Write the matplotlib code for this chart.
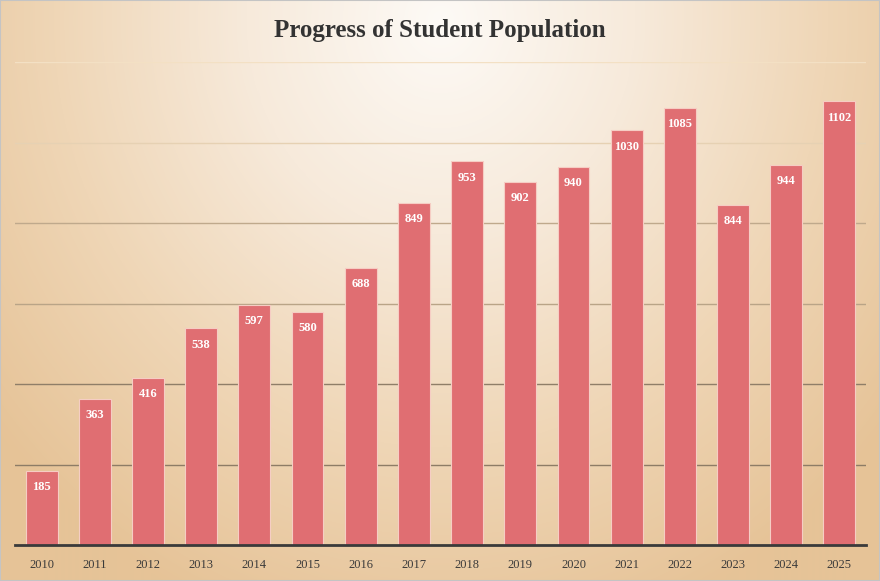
import numpy as np
import matplotlib
matplotlib.use("Agg")
import matplotlib.pyplot as plt
from matplotlib.colors import LinearSegmentedColormap

# Chart data
years = ["2010", "2011", "2012", "2013", "2014", "2015", "2016", "2017",
         "2018", "2019", "2020", "2021", "2022", "2023", "2024", "2025"]
students = [185, 363, 416, 538, 597, 580, 688, 849,
            953, 902, 940, 1030, 1085, 844, 944, 1102]
grid_levels = [200, 400, 600, 800, 1000, 1200]
grid_colors = ["#8d7c66", "#8f7e68", "#b9a487", "#bfa98c", "#e6d1b3", "#f3e0c4"]

SERIF = ["Liberation Serif", "DejaVu Serif"]

fig = plt.figure(figsize=(8.8, 5.81), dpi=100)

# radial gradient background
bg = fig.add_axes([0, 0, 1, 1], zorder=-10)
h, w = 581, 880
yy, xx = np.mgrid[0:h, 0:w]
r = np.sqrt(((xx - 440) / 580.0) ** 2 + ((yy - 20) / 640.0) ** 2)
r = np.clip(r, 0, 1)
cmap_bg = LinearSegmentedColormap.from_list("bg", ["#fdfaf6", "#f7eadb", "#efd6b6", "#e6c397"])
bg.imshow(r, cmap=cmap_bg, aspect="auto", extent=[0, 1, 0, 1], vmin=0, vmax=1)
bg.set_axis_off()
fig.patches.append(plt.Rectangle((0, 0), 1, 1, transform=fig.transFigure,
                                 fill=False, edgecolor="#c4c4c4", linewidth=1.5))

ax = fig.add_axes([15 / 880, 1 - 545 / 581, 851 / 880, (545 - 62) / 581])
ax.patch.set_alpha(0)

x = np.arange(len(years))
for lvl, col in zip(grid_levels, grid_colors):
    ax.axhline(lvl, color=col, linewidth=1.0, zorder=1)

bars = ax.bar(x, students, width=0.6, color="#e06e72", edgecolor="#f6cdc4",
              linewidth=0.8, zorder=2)

for xi, v in zip(x, students):
    ax.text(xi, v - 40, str(v), ha="center", va="center", color="white",
            fontsize=9, fontweight="bold", family=SERIF, zorder=3)

ax.set_xlim(-0.5, len(years) - 0.5)
ax.set_ylim(0, 1200)
ax.set_xticks(x)
ax.set_xticklabels(years, family=SERIF, fontsize=9, color="#3a3a3a")
ax.set_yticks([])
ax.tick_params(axis="x", length=0, pad=10)
for s in ("top", "right", "left"):
    ax.spines[s].set_visible(False)
ax.spines["bottom"].set_color("#3a3a3a")
ax.spines["bottom"].set_linewidth(2)

fig.text(0.5, 1 - 31 / 581, "Progress of Student Population", ha="center", va="center",
         fontsize=18, fontweight="bold", color="#333333", family=SERIF)

fig.savefig("out.png", dpi=100)
